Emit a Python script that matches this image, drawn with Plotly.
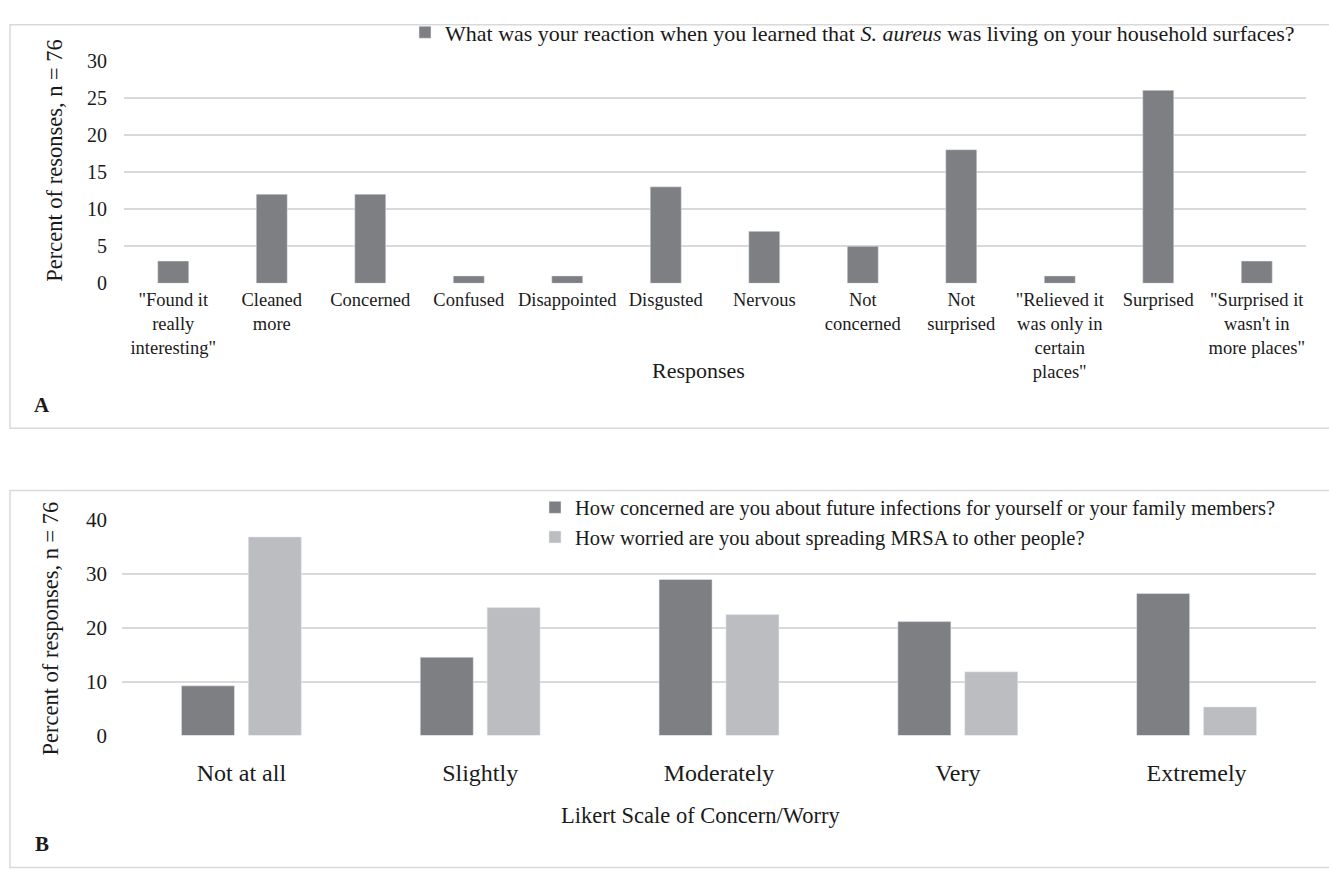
import plotly.graph_objects as go

W, H = 1329, 871

# Panel A data
reactions = ['"Found it<br>really<br>interesting"', 'Cleaned<br>more', 'Concerned', 'Confused',
             'Disappointed', 'Disgusted', 'Nervous', 'Not<br>concerned', 'Not<br>surprised',
             '"Relieved it<br>was only in<br>certain<br>places"', 'Surprised',
             '"Surprised it<br>wasn\'t in<br>more places"']
reaction_pct = [3, 12, 12, 1, 1, 13, 7, 5, 18, 1, 26, 3]

# Panel B data
likert = ['Not at all', 'Slightly', 'Moderately', 'Very', 'Extremely']
concern_future = [9.2, 14.5, 28.9, 21.1, 26.3]
worry_spread = [36.8, 23.7, 22.4, 11.8, 5.3]

DARK = '#7e7f83'
LIGHT = '#bcbdc1'
GRID = '#d9d9d9'
TXT = '#1a1a1a'
FAM = '"Liberation Serif", "Times New Roman", serif'


def F(size, **kw):
    return dict(family=FAM, size=size, color=TXT, **kw)


def px(x):
    return x / W


def py(y):
    return 1 - y / H


fig = go.Figure()

fig.add_trace(go.Bar(
    x=reactions, y=reaction_pct, marker_color=DARK, width=0.315,
    name='What was your reaction when you learned that <i>S. aureus</i> was living on your household surfaces?',
    xaxis='x', yaxis='y', legend='legend'))

fig.add_trace(go.Bar(
    x=likert, y=concern_future, marker_color=DARK, width=0.222, offset=-0.251,
    name='How concerned are you about future infections for yourself or your family members?',
    xaxis='x2', yaxis='y2', legend='legend2', legendgroup='g1'))
fig.add_trace(go.Bar(
    x=likert, y=worry_spread, marker_color=LIGHT, width=0.222, offset=0.029,
    name='How worried are you about spreading MRSA to other people?',
    xaxis='x2', yaxis='y2', legend='legend2', legendgroup='g2'))

axis_common = dict(showline=False, zeroline=False, fixedrange=True, ticks='')

fig.update_layout(
    width=W, height=H, margin=dict(l=0, r=0, t=0, b=0),
    paper_bgcolor='white', plot_bgcolor='white',
    barmode='overlay',
    font=F(16),
    xaxis=dict(domain=[px(124), px(1306)], anchor='y', showgrid=False,
               tickfont=F(18.5), ticklabelstandoff=3, tickangle=0, **axis_common),
    yaxis=dict(domain=[py(279), py(50)], anchor='x', range=[0, 30], dtick=5,
               gridcolor=GRID, gridwidth=1.5, tickfont=F(20),
               ticklabelstandoff=16, **axis_common),
    xaxis2=dict(domain=[px(122), px(1316)], anchor='y2', showgrid=False,
                tickfont=F(24), ticklabelstandoff=21, tickangle=0, **axis_common),
    yaxis2=dict(domain=[py(744), py(522)], anchor='x2', range=[0, 40], dtick=10,
                gridcolor=GRID, gridwidth=1.5, tickfont=F(21),
                ticklabelstandoff=14, **axis_common),
    legend=dict(x=px(405), y=py(21), xanchor='left', yanchor='middle', bgcolor='rgba(0,0,0,0)',
                font=F(22), itemwidth=30),
    legend2=dict(x=px(535), y=py(525), xanchor='left', yanchor='middle', bgcolor='rgba(0,0,0,0)',
                 font=F(20.5), itemwidth=30, tracegroupgap=0),
    showlegend=True,
)

annotations = [
    dict(text='Percent of resonses, n = 76', x=px(55), y=py(153), textangle=-90, font=F(22.5)),
    dict(text='Responses', x=px(698), y=py(369), font=F(22)),
    dict(text='<b>A</b>', x=px(42), y=py(404), font=F(21)),
    dict(text='Percent of responses, n = 76', x=px(51), y=py(634), textangle=-90, font=F(22.5)),
    dict(text='Likert Scale of Concern/Worry', x=px(700), y=py(826), font=F(22.5)),
    dict(text='<b>B</b>', x=px(42), y=py(856), font=F(21)),
]
for a in annotations:
    a.update(xref='paper', yref='paper', showarrow=False, xanchor='center', yanchor='middle')
fig.update_layout(annotations=annotations)

fig.update_layout(shapes=[
    dict(type='rect', xref='paper', yref='paper', x0=px(10), x1=1.01, y0=py(428), y1=py(13),
         line=dict(color=GRID, width=1.5), layer='below'),
    dict(type='rect', xref='paper', yref='paper', x0=px(10), x1=1.01, y0=-0.01, y1=py(492),
         line=dict(color=GRID, width=1.5), layer='below'),
])

fig.write_html('out.html')
